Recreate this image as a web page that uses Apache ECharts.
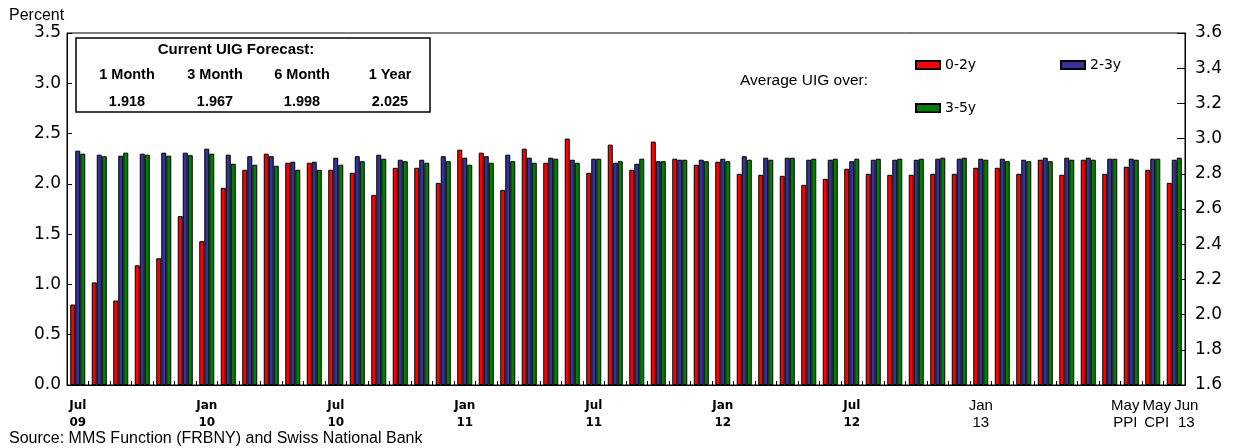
<!DOCTYPE html>
<html>
<head>
<meta charset="utf-8">
<script src="https://cdn.jsdelivr.net/npm/echarts@6/dist/echarts.min.js"></script>
<style>
  html, body { margin: 0; padding: 0; background: #fff; }
  #chart { width: 1248px; height: 448px; }
</style>
</head>
<body>
<div id="chart"></div>
<script>
// ---- Data ----
const periods = ['Jul 09','Aug 09','Sep 09','Oct 09','Nov 09','Dec 09','Jan 10','Feb 10','Mar 10','Apr 10','May 10','Jun 10',
  'Jul 10','Aug 10','Sep 10','Oct 10','Nov 10','Dec 10','Jan 11','Feb 11','Mar 11','Apr 11','May 11','Jun 11',
  'Jul 11','Aug 11','Sep 11','Oct 11','Nov 11','Dec 11','Jan 12','Feb 12','Mar 12','Apr 12','May 12','Jun 12',
  'Jul 12','Aug 12','Sep 12','Oct 12','Nov 12','Dec 12','Jan 13','Feb 13','Mar 13','Apr 13 a','Apr 13 b','May 13 a',
  'May 13 b','May 13 PPI','May 13 CPI','Jun 13'];

const tickLabels = ['Jul\n09','','','','','','Jan\n10','','','','','',
  'Jul\n10','','','','','','Jan\n11','','','','','',
  'Jul\n11','','','','','','Jan\n12','','','','','',
  'Jul\n12','','','','','','Jan\n13','','','','','',
  '','May\nPPI','May\nCPI','Jun\n13'];

const uig0to2 = [0.80,1.02,0.84,1.19,1.26,1.68,1.43,1.96,2.14,2.30,2.21,2.21,
  2.14,2.11,1.89,2.16,2.16,2.01,2.34,2.31,1.94,2.35,2.21,2.45,
  2.11,2.39,2.14,2.42,2.25,2.19,2.22,2.10,2.09,2.08,1.99,2.05,
  2.15,2.10,2.09,2.09,2.10,2.10,2.16,2.16,2.10,2.24,2.09,2.24,
  2.10,2.17,2.14,2.01];

const uig2to3 = [2.33,2.29,2.28,2.30,2.31,2.31,2.35,2.29,2.275,2.275,2.22,2.22,
  2.26,2.275,2.29,2.24,2.24,2.275,2.26,2.275,2.29,2.26,2.26,2.24,
  2.25,2.21,2.20,2.225,2.24,2.24,2.25,2.275,2.26,2.26,2.24,2.24,
  2.225,2.24,2.24,2.24,2.25,2.25,2.25,2.25,2.24,2.26,2.26,2.26,
  2.25,2.25,2.25,2.24];

const uig3to5 = [2.30,2.275,2.31,2.29,2.28,2.285,2.30,2.20,2.19,2.18,2.14,2.14,
  2.19,2.225,2.25,2.225,2.21,2.225,2.19,2.21,2.225,2.21,2.25,2.21,
  2.25,2.225,2.25,2.225,2.24,2.225,2.225,2.24,2.24,2.26,2.25,2.25,
  2.25,2.25,2.25,2.25,2.26,2.26,2.24,2.225,2.225,2.225,2.24,2.24,
  2.25,2.24,2.25,2.26];

const forecastHeaders = ['1 Month','3 Month','6 Month','1 Year'];
const forecastValues = ['1.918','1.967','1.998','2.025'];

// ---- Chart ----
const chart = echarts.init(document.getElementById('chart'), null, { renderer: 'canvas' });

const wideFont = 'DejaVu Sans';
const armFont = '"Liberation Sans", Arial, sans-serif';

function labelStyleFor(i) {
  if (i === 49) return 'p';
  if (i === 50) return 'c';
  if (i === 51) return 'j';
  if (i >= 42) return 'b';
  return 'a';
}

const boxCenters = [127, 215, 302, 390];
const graphics = [
  { type: 'rect', shape: { x: 76, y: 38, width: 354, height: 74 },
    style: { fill: '#fff', stroke: '#000', lineWidth: 1.5 }, z: 100 },
  { type: 'text', x: 236, y: 50, z: 101,
    style: { text: 'Current UIG Forecast:', font: 'bold 15px ' + armFont, fill: '#000', textAlign: 'center', textVerticalAlign: 'middle' } },
  { type: 'text', x: 9, y: 16, z: 101,
    style: { text: 'Percent', font: '16px ' + armFont, fill: '#000', textAlign: 'left', textVerticalAlign: 'middle' } },
  { type: 'text', x: 9, y: 439, z: 101,
    style: { text: 'Source: MMS Function (FRBNY) and Swiss National Bank', font: '16px ' + armFont, fill: '#000', textAlign: 'left', textVerticalAlign: 'middle' } },
  { type: 'text', x: 740, y: 81, z: 101,
    style: { text: 'Average UIG over:', font: '15.5px ' + armFont, fill: '#000', textAlign: 'left', textVerticalAlign: 'middle' } }
];
forecastHeaders.forEach((h, k) => {
  graphics.push({ type: 'text', x: boxCenters[k], y: 75, z: 101,
    style: { text: h, font: 'bold 14.5px ' + armFont, fill: '#000', textAlign: 'center', textVerticalAlign: 'middle' } });
  graphics.push({ type: 'text', x: boxCenters[k], y: 102, z: 101,
    style: { text: forecastValues[k], font: 'bold 14.5px ' + armFont, fill: '#000', textAlign: 'center', textVerticalAlign: 'middle' } });
});

const legendText = { fontFamily: wideFont, fontSize: 14, color: '#000' };
const legendCommon = { orient: 'horizontal', icon: 'rect', itemWidth: 24, itemHeight: 8, itemGap: 0, padding: 0, textStyle: legendText, selectedMode: false };

const barStyle = (color) => ({ color: color, borderColor: '#000', borderWidth: 1 });

const option = {
  animation: false,
  backgroundColor: '#fff',
  grid: { left: 67, right: 63, top: 33, bottom: 63, show: true, borderColor: '#000', borderWidth: 1, backgroundColor: 'transparent' },
  legend: [
    Object.assign({ left: 915, top: 58, data: ['0-2y'] }, legendCommon),
    Object.assign({ left: 1060, top: 58, data: ['2-3y'] }, legendCommon),
    Object.assign({ left: 915, top: 101, data: ['3-5y'] }, legendCommon)
  ],
  graphic: graphics,
  xAxis: {
    type: 'category',
    data: periods,
    boundaryGap: true,
    axisLine: { show: true, lineStyle: { color: '#000', width: 1 } },
    axisTick: { show: true, inside: true, length: 4, interval: 0, alignWithLabel: false, lineStyle: { color: '#000' } },
    axisLabel: {
      interval: 0,
      margin: 12,
      formatter: function (value, index) {
        const t = tickLabels[index];
        if (!t) return '';
        const s = labelStyleFor(index);
        return t.split('\n').map(l => '{' + s + '|' + l + '}').join('\n');
      },
      rich: {
        a: { fontFamily: wideFont, fontSize: 12, fontWeight: 'bold', color: '#000', lineHeight: 17 },
        b: { fontFamily: armFont, fontSize: 15, color: '#000', lineHeight: 17 },
        p: { fontFamily: armFont, fontSize: 15, color: '#000', lineHeight: 17, padding: [0, 12, 0, 0] },
        c: { fontFamily: armFont, fontSize: 15, color: '#000', lineHeight: 17, padding: [0, 0, 0, 8] },
        j: { fontFamily: armFont, fontSize: 15, color: '#000', lineHeight: 17, padding: [0, 0, 0, 24] }
      }
    },
    splitLine: { show: false }
  },
  yAxis: [
    {
      type: 'value', min: 0, max: 3.5, interval: 0.5, position: 'left',
      axisLine: { show: true, lineStyle: { color: '#000' } },
      axisTick: { show: true, inside: true, length: 5, lineStyle: { color: '#000' } },
      axisLabel: { margin: 6, fontFamily: wideFont, fontSize: 17, color: '#000', formatter: v => v.toFixed(1) },
      splitLine: { show: false }
    },
    {
      type: 'value', min: 1.6, max: 3.6, interval: 0.2, position: 'right',
      axisLine: { show: true, lineStyle: { color: '#000' } },
      axisTick: { show: true, inside: true, length: 8, lineStyle: { color: '#000' } },
      axisLabel: { margin: 10, fontFamily: wideFont, fontSize: 17, color: '#000', formatter: v => v.toFixed(1) },
      splitLine: { show: false }
    }
  ],
  series: [
    { name: '0-2y', type: 'bar', yAxisIndex: 0, data: uig0to2, barWidth: 5, barGap: '0%', itemStyle: barStyle('#FF0000') },
    { name: '2-3y', type: 'bar', yAxisIndex: 0, data: uig2to3, barWidth: 5, barGap: '0%', itemStyle: barStyle('#333399') },
    { name: '3-5y', type: 'bar', yAxisIndex: 0, data: uig3to5, barWidth: 5, barGap: '0%', itemStyle: barStyle('#008000') }
  ]
};

chart.setOption(option);
</script>
</body>
</html>
